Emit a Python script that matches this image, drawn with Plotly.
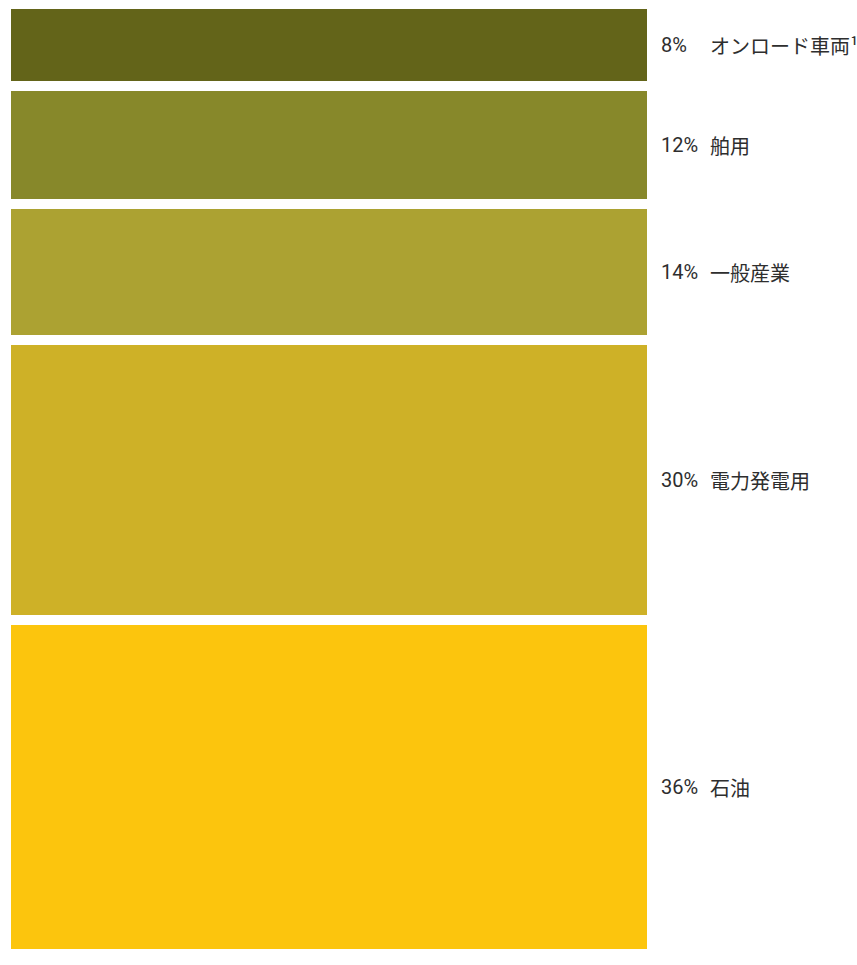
import plotly.graph_objects as go

# Share of sales by end market
categories = ["オンロード車両¹", "舶用", "一般産業", "電力発電用", "石油"]
shares = [8, 12, 14, 30, 36]
colors = ["#636419", "#87882a", "#aca232", "#ceb127", "#fcc50d"]

W, H = 857, 965
top_m, left_m = 9, 11
px_per_pct = 9.0
gap = 10 / px_per_pct  # white gap between segments, in axis units

fig = go.Figure()
base = 0.0
centers = []
for cat, val, col in zip(categories, shares, colors):
    fig.add_trace(go.Bar(
        x=[0], y=[val], base=[base], width=1,
        marker=dict(color=col, line=dict(width=0)),
        hoverinfo="skip", showlegend=False,
    ))
    centers.append(base + val / 2)
    base += val + gap

y_span = (H - top_m) / px_per_pct
plot_w = W - left_m
bar_frac = (647 - left_m) / plot_w

for cat, val, yc in zip(categories, shares, centers):
    fig.add_annotation(
        x=(659 - left_m) / plot_w, xref="paper", y=yc, yref="y",
        text=f"{val}%", showarrow=False, xanchor="left", yanchor="middle",
        font=dict(family="Liberation Sans Narrow, Roboto, sans-serif", size=20, color="#2e2e2e"),
    )
    fig.add_annotation(
        x=(708 - left_m) / plot_w, xref="paper", y=yc, yref="y",
        text=cat, showarrow=False, xanchor="left", yanchor="middle",
        font=dict(family="Noto Sans CJK JP, sans-serif", size=20, color="#2e2e2e"),
    )

fig.update_layout(
    width=W, height=H,
    margin=dict(l=left_m, r=0, t=top_m, b=0),
    plot_bgcolor="white", paper_bgcolor="white",
    barmode="overlay",
    xaxis=dict(domain=[0, bar_frac], range=[-0.5, 0.5], visible=False, fixedrange=True),
    yaxis=dict(range=[y_span, 0], visible=False, fixedrange=True),
)

fig.write_html("out.html")
